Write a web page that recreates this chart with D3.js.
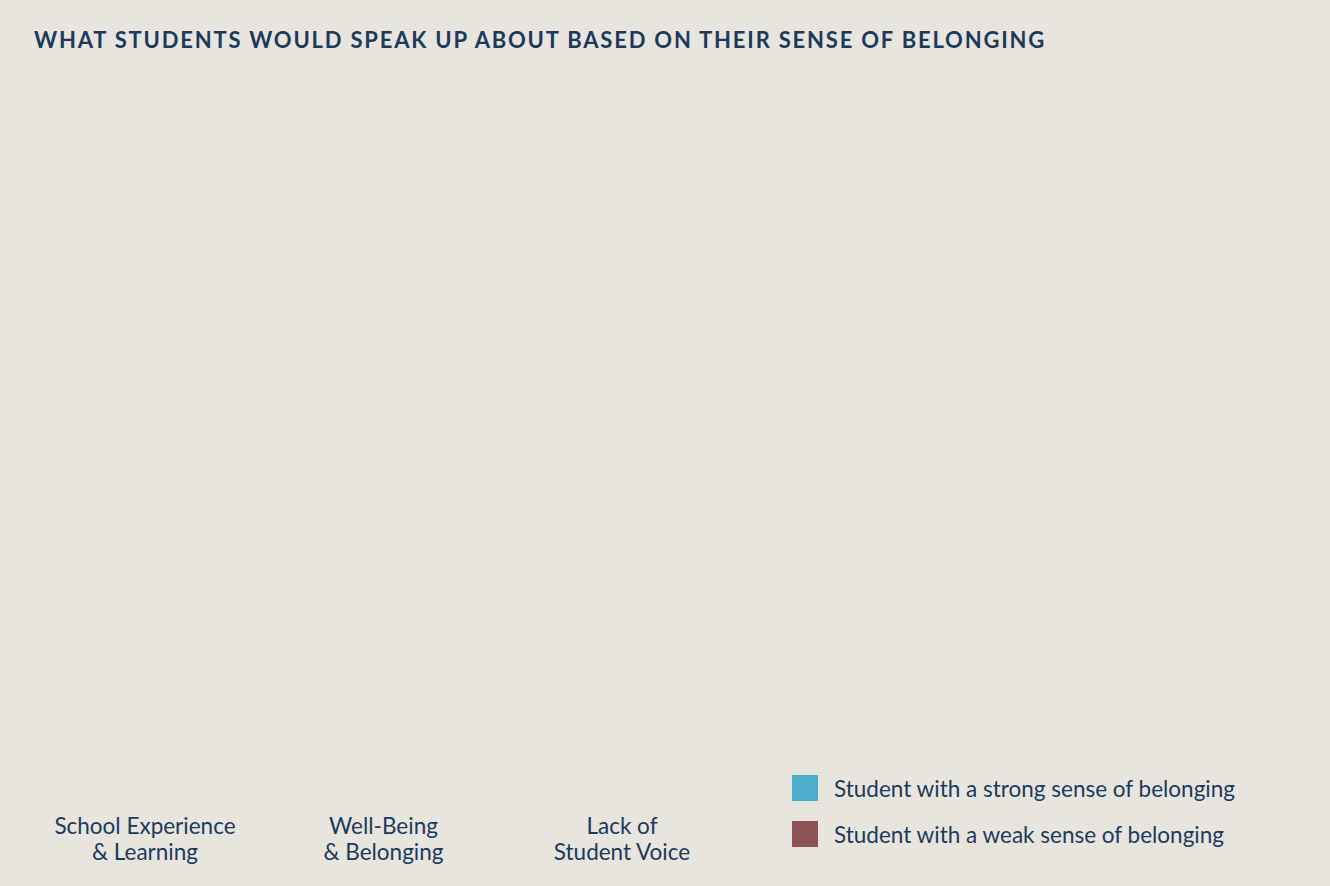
<!DOCTYPE html>
<meta charset="utf-8">
<script src="https://d3js.org/d3.v7.min.js"></script>
<style>
  body { margin: 0; background: #e8e5df; }
  svg { display: block; }
  text { font-family: Lato, "Open Sans", sans-serif; fill: #1b3a5c; }
</style>
<div id="chart"></div>
<script>
// categories and series (bars sit at zero in the reference frame)
var categories = [["School Experience", "& Learning"], ["Well-Being", "& Belonging"], ["Lack of", "Student Voice"]];
var seriesNames = ["Student with a strong sense of belonging", "Student with a weak sense of belonging"];
var strongValues = [0, 0, 0];
var weakValues = [0, 0, 0];
var seriesColors = ["#4badcb", "#8c5256"];

var width = 1330, height = 886;

var svg = d3.select("#chart").append("svg")
  .attr("width", width)
  .attr("height", height);

svg.append("rect")
  .attr("width", width)
  .attr("height", height)
  .attr("fill", "#e8e5df");

// title
svg.append("text")
  .attr("x", 34)
  .attr("y", 48)
  .style("font-size", "22px")
  .style("font-weight", "bold")
  .style("letter-spacing", "1.8px")
  .text("WHAT STUDENTS WOULD SPEAK UP ABOUT BASED ON THEIR SENSE OF BELONGING");

// scales: category centres, then two bars per category
var x = d3.scalePoint()
  .domain(categories.map(function(d) { return d[0]; }))
  .range([145, 622]);

var groupWidth = x.step() * 0.8;

var x1 = d3.scaleBand()
  .domain(seriesNames)
  .range([-groupWidth / 2, groupWidth / 2])
  .padding(0.1);

var y = d3.scaleLinear()
  .domain([0, 100])
  .range([800, 100]);

// bars
var groups = svg.selectAll(".cat")
  .data(categories)
  .enter()
  .append("g")
  .attr("class", "cat")
  .attr("transform", function(d) { return "translate(" + x(d[0]) + ",0)"; });

groups.selectAll("rect")
  .data(function(d, i) {
    return [{s: seriesNames[0], v: strongValues[i], c: seriesColors[0]},
            {s: seriesNames[1], v: weakValues[i], c: seriesColors[1]}];
  })
  .enter()
  .append("rect")
  .attr("x", function(d) { return x1(d.s); })
  .attr("width", x1.bandwidth())
  .attr("y", function(d) { return y(d.v); })
  .attr("height", function(d) { return y(0) - y(d.v); })
  .attr("fill", function(d) { return d.c; });

// category labels
var labels = svg.selectAll(".label")
  .data(categories)
  .enter()
  .append("text")
  .attr("class", "label")
  .attr("text-anchor", "middle")
  .style("font-size", "22.5px");

labels.selectAll("tspan")
  .data(function(d) { return d.map(function(line) { return {line: line, key: d[0]}; }); })
  .enter()
  .append("tspan")
  .attr("x", function(d) { return x(d.key); })
  .attr("y", function(d, i) { return 834 + i * 26; })
  .text(function(d) { return d.line; });

// legend
var legend = svg.selectAll(".legend")
  .data(seriesNames)
  .enter()
  .append("g")
  .attr("class", "legend")
  .attr("transform", function(d, i) { return "translate(792," + (775 + i * 46) + ")"; });

legend.append("rect")
  .attr("width", 26)
  .attr("height", 26)
  .attr("fill", function(d, i) { return seriesColors[i]; });

legend.append("text")
  .attr("x", 42)
  .attr("y", 22)
  .style("font-size", "22.5px")
  .text(function(d) { return d; });
</script>
